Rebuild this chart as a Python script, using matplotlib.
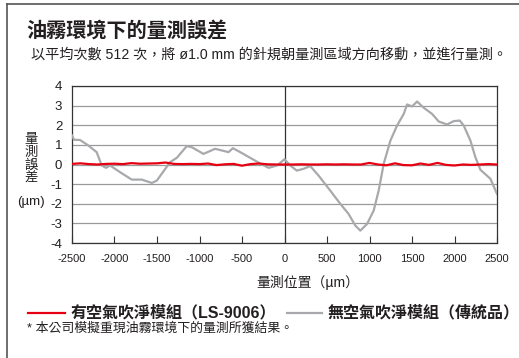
import matplotlib
matplotlib.use("Agg")
import matplotlib.pyplot as plt
from matplotlib.lines import Line2D
from matplotlib import font_manager

plt.rcParams['font.family'] = ['Liberation Sans', 'Noto Sans CJK TC', 'DejaVu Sans']

_names = {f.name for f in font_manager.fontManager.ttflist}
NARROW = 'Liberation Sans Narrow' if 'Liberation Sans Narrow' in _names else 'Liberation Sans'

# Measurement error without air purge (conventional)
gray_x = [-2500, -2476, -2406, -2308, -2210, -2150, -2100, -2052, -1935, -1797,
          -1679, -1561, -1502, -1346, -1267, -1149, -1090, -953, -816, -659,
          -607, -521, -403, -286, -187, -86, 0, 67, 145, 224, 303, 400, 538,
          656, 754, 833, 892, 971, 1049, 1108, 1167, 1246, 1325, 1403, 1442,
          1501, 1560, 1638, 1736, 1815, 1913, 1991, 2061, 2108, 2187, 2246,
          2305, 2423, 2500]
gray_y = [1.48, 1.26, 1.25, 0.97, 0.63, -0.05, -0.17, -0.05, -0.39, -0.77,
          -0.77, -0.94, -0.82, 0.12, 0.34, 0.94, 0.88, 0.54, 0.80, 0.63,
          0.83, 0.63, 0.34, 0.05, -0.17, -0.05, 0.27, -0.05, -0.31, -0.22,
          -0.08, -0.56, -1.33, -2.0, -2.52, -3.11, -3.37, -3.03, -2.35, -1.33,
          0.03, 1.22, 1.99, 2.58, 3.06, 2.96, 3.21, 2.89, 2.58, 2.19, 2.04,
          2.21, 2.24, 1.99, 1.22, 0.37, -0.27, -0.73, -1.5]

# Measurement error with air purge unit (LS-9006)
red_x = list(range(-2500, 2501, 100))
red_y = [0.03, 0.06, 0.02, 0.0, 0.03, 0.04, 0.02, 0.07, 0.04, 0.05,
         0.06, 0.10, 0.03, 0.02, 0.03, 0.02, 0.05, -0.03, 0.01, 0.03,
         -0.06, 0.02, 0.05, 0.01, 0.0, 0.0, 0.0, 0.01, 0.0, 0.0,
         0.01, 0.0, 0.01, 0.0, 0.0, 0.08, 0.0, -0.04, 0.06, -0.03,
         -0.04, 0.05, -0.02, 0.08, -0.02, -0.05, 0.0, -0.02, 0.0, 0.02,
         0.0]

x_ticks = [-2500, -2000, -1500, -1000, -500, 0, 500, 1000, 1500, 2000, 2500]
y_ticks = [-4, -3, -2, -1, 0, 1, 2, 3, 4]
y_label_lines = ['量', '測', '誤', '差', '(µm)']

RED = '#e60012'
GRAY = '#a7a9ac'
TXT = '#231f20'

W, H = 519, 358
fig = plt.figure(figsize=(W / 100, H / 100), dpi=100)
fig.patch.set_facecolor('white')

# outer frame (top and left edges)
fig.add_artist(Line2D([7 / W, 7 / W], [0, 1 - 4 / H], transform=fig.transFigure,
                      color='#555555', lw=1.2))
fig.add_artist(Line2D([7 / W, 1], [1 - 4 / H, 1 - 4 / H], transform=fig.transFigure,
                      color='#555555', lw=1.2))

ax = fig.add_axes([72 / W, 1 - 243 / H, (497 - 72) / W, (243 - 86) / H])
ax.set_xlim(-2500, 2500)
ax.set_ylim(-4, 4)

for yv in y_ticks:
    ax.axhline(yv, color='#9a9a9a', lw=0.9, zorder=1)
ax.axvline(0, color='#333333', lw=0.9, zorder=1)

ax.plot(gray_x, gray_y, color=GRAY, lw=1.6, zorder=3)
ax.plot(red_x, red_y, color=RED, lw=1.6, zorder=4)

for s in ax.spines.values():
    s.set_color('#333333')
    s.set_linewidth(0.9)

ax.set_xticks(x_ticks)
ax.set_xticklabels([str(v) for v in x_ticks], family=NARROW)
ax.set_yticks(y_ticks)
ax.set_yticklabels([str(v) for v in y_ticks])
ax.tick_params(axis='x', direction='in', length=5, width=0.8, color='#333333',
               pad=8, labelsize=8, labelcolor=TXT)
ax.tick_params(axis='y', length=0, pad=7, labelsize=9.5, labelcolor=TXT)

# y axis label, stacked vertically
for txt, yp in zip(y_label_lines, [139.5, 152.5, 165.5, 178.5, 202.5]):
    fig.text(31 / W, 1 - yp / H, txt, ha='center', va='center',
             fontsize=9.6, color=TXT)

fig.text(308 / W, 1 - 282 / H, '量測位置（µm）', ha='center', va='center',
         fontsize=10, color=TXT)

fig.text(26 / W, 1 - 31 / H, '油霧環境下的量測誤差', ha='left', va='center',
         fontsize=14.5, fontweight='bold', color=TXT)
fig.text(31 / W, 1 - 55 / H,
         '以平均次數 512 次，將 ø1.0 mm 的針規朝量測區域方向移動，並進行量測。',
         ha='left', va='center', fontsize=10.2, color=TXT)

# legend
fig.add_artist(Line2D([28 / W, 65 / W], [1 - 313 / H, 1 - 313 / H],
                      transform=fig.transFigure, color=RED, lw=1.6))
fig.text(70 / W, 1 - 313 / H, '有空氣吹淨模組（LS-9006）', ha='left', va='center',
         fontsize=11.5, fontweight='bold', color=TXT)
fig.add_artist(Line2D([287 / W, 322 / W], [1 - 313 / H, 1 - 313 / H],
                      transform=fig.transFigure, color=GRAY, lw=1.6))
fig.text(328 / W, 1 - 313 / H, '無空氣吹淨模組（傳統品）', ha='left', va='center',
         fontsize=11.5, fontweight='bold', color=TXT)

fig.text(27 / W, 1 - 329 / H, '* 本公司模擬重現油霧環境下的量測所獲結果。', ha='left',
         va='center', fontsize=9.3, color=TXT)

fig.savefig('out.png', dpi=100)
